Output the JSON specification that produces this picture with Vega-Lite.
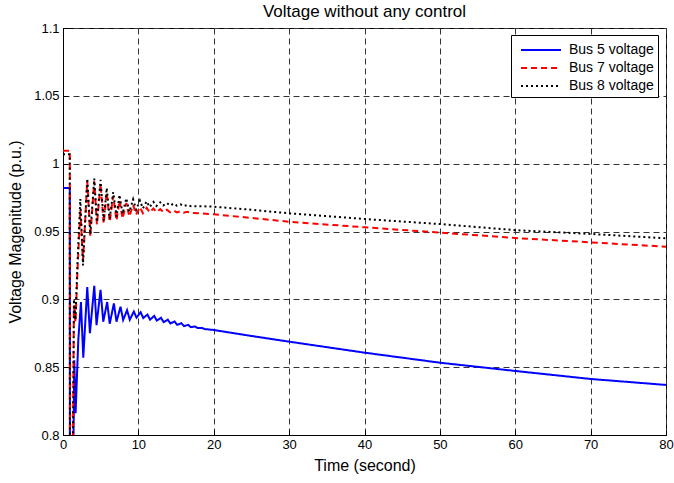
{
  "$schema": "https://vega.github.io/schema/vega-lite/v6.json",
  "width": 603,
  "height": 407,
  "autosize": {"type": "none"},
  "padding": {"left": 63, "top": 28, "right": 8, "bottom": 48},
  "background": "white",
  "title": {"text": "Voltage without any control", "font": "Liberation Sans", "fontSize": 17, "fontWeight": "normal", "offset": 1, "color": "black", "anchor": "middle"},
  "config": {
    "view": {"stroke": "black", "strokeWidth": 1},
    "axis": {
      "domainColor": "black", "domainWidth": 1,
      "grid": true, "gridColor": "#333333", "gridDash": [6, 4], "gridWidth": 1, "gridOpacity": 1,
      "ticks": true, "tickColor": "black", "tickSize": -5, "tickWidth": 1,
      "labelFont": "Liberation Sans", "labelFontSize": 13, "labelColor": "black", "labelFlush": false, "labelOverlap": false,
      "titleFont": "Liberation Sans", "titleFontSize": 16, "titleFontWeight": "normal", "titleColor": "black"
    }
  },
  "data": {"values": [
    {"s": "Bus 5 voltage", "t": 0, "v": 0.982},
    {"s": "Bus 5 voltage", "t": 0.9, "v": 0.982},
    {"s": "Bus 5 voltage", "t": 0.92, "v": 0.775},
    {"s": "Bus 5 voltage", "t": 1.35, "v": 0.775},
    {"s": "Bus 5 voltage", "t": 1.5, "v": 0.855},
    {"s": "Bus 5 voltage", "t": 1.67, "v": 0.816},
    {"s": "Bus 5 voltage", "t": 2.03, "v": 0.87},
    {"s": "Bus 5 voltage", "t": 2.38, "v": 0.898},
    {"s": "Bus 5 voltage", "t": 2.69, "v": 0.857},
    {"s": "Bus 5 voltage", "t": 3.22, "v": 0.909},
    {"s": "Bus 5 voltage", "t": 3.57, "v": 0.875},
    {"s": "Bus 5 voltage", "t": 4.15, "v": 0.91},
    {"s": "Bus 5 voltage", "t": 4.45, "v": 0.881},
    {"s": "Bus 5 voltage", "t": 4.98, "v": 0.907},
    {"s": "Bus 5 voltage", "t": 5.34, "v": 0.8835},
    {"s": "Bus 5 voltage", "t": 5.86, "v": 0.898},
    {"s": "Bus 5 voltage", "t": 6.2, "v": 0.882},
    {"s": "Bus 5 voltage", "t": 6.75, "v": 0.897},
    {"s": "Bus 5 voltage", "t": 7.1, "v": 0.8835},
    {"s": "Bus 5 voltage", "t": 7.63, "v": 0.8946},
    {"s": "Bus 5 voltage", "t": 7.98, "v": 0.8848},
    {"s": "Bus 5 voltage", "t": 8.5, "v": 0.892},
    {"s": "Bus 5 voltage", "t": 8.86, "v": 0.885},
    {"s": "Bus 5 voltage", "t": 9.4, "v": 0.891},
    {"s": "Bus 5 voltage", "t": 9.75, "v": 0.8865},
    {"s": "Bus 5 voltage", "t": 10.3, "v": 0.8905},
    {"s": "Bus 5 voltage", "t": 10.65, "v": 0.8862},
    {"s": "Bus 5 voltage", "t": 11.2, "v": 0.8888},
    {"s": "Bus 5 voltage", "t": 11.55, "v": 0.885},
    {"s": "Bus 5 voltage", "t": 12.1, "v": 0.8878},
    {"s": "Bus 5 voltage", "t": 12.45, "v": 0.8843},
    {"s": "Bus 5 voltage", "t": 13.0, "v": 0.8864},
    {"s": "Bus 5 voltage", "t": 13.35, "v": 0.8832},
    {"s": "Bus 5 voltage", "t": 13.9, "v": 0.885},
    {"s": "Bus 5 voltage", "t": 14.25, "v": 0.8822},
    {"s": "Bus 5 voltage", "t": 14.8, "v": 0.8837},
    {"s": "Bus 5 voltage", "t": 15.15, "v": 0.8812},
    {"s": "Bus 5 voltage", "t": 15.7, "v": 0.8824},
    {"s": "Bus 5 voltage", "t": 16.05, "v": 0.8803},
    {"s": "Bus 5 voltage", "t": 16.6, "v": 0.8812},
    {"s": "Bus 5 voltage", "t": 16.95, "v": 0.8795},
    {"s": "Bus 5 voltage", "t": 17.5, "v": 0.88},
    {"s": "Bus 5 voltage", "t": 17.85, "v": 0.8788},
    {"s": "Bus 5 voltage", "t": 18.4, "v": 0.879},
    {"s": "Bus 5 voltage", "t": 18.8, "v": 0.8781},
    {"s": "Bus 5 voltage", "t": 20, "v": 0.8774},
    {"s": "Bus 5 voltage", "t": 25, "v": 0.873},
    {"s": "Bus 5 voltage", "t": 30, "v": 0.8688},
    {"s": "Bus 5 voltage", "t": 40, "v": 0.8607},
    {"s": "Bus 5 voltage", "t": 50, "v": 0.8533},
    {"s": "Bus 5 voltage", "t": 60, "v": 0.8472},
    {"s": "Bus 5 voltage", "t": 70, "v": 0.8413},
    {"s": "Bus 5 voltage", "t": 80, "v": 0.8369},

    {"s": "Bus 7 voltage", "t": 0, "v": 1.0095},
    {"s": "Bus 7 voltage", "t": 0.9, "v": 1.0095},
    {"s": "Bus 7 voltage", "t": 0.92, "v": 0.775},
    {"s": "Bus 7 voltage", "t": 1.3, "v": 0.775},
    {"s": "Bus 7 voltage", "t": 1.45, "v": 0.895},
    {"s": "Bus 7 voltage", "t": 1.65, "v": 0.883},
    {"s": "Bus 7 voltage", "t": 1.95, "v": 0.925},
    {"s": "Bus 7 voltage", "t": 2.3, "v": 0.966},
    {"s": "Bus 7 voltage", "t": 2.65, "v": 0.928},
    {"s": "Bus 7 voltage", "t": 3.22, "v": 0.987},
    {"s": "Bus 7 voltage", "t": 3.62, "v": 0.946},
    {"s": "Bus 7 voltage", "t": 4.15, "v": 0.987},
    {"s": "Bus 7 voltage", "t": 4.5, "v": 0.955},
    {"s": "Bus 7 voltage", "t": 4.98, "v": 0.985},
    {"s": "Bus 7 voltage", "t": 5.4, "v": 0.956},
    {"s": "Bus 7 voltage", "t": 5.8, "v": 0.979},
    {"s": "Bus 7 voltage", "t": 6.2, "v": 0.957},
    {"s": "Bus 7 voltage", "t": 6.66, "v": 0.976},
    {"s": "Bus 7 voltage", "t": 7.1, "v": 0.958},
    {"s": "Bus 7 voltage", "t": 7.5, "v": 0.973},
    {"s": "Bus 7 voltage", "t": 7.9, "v": 0.9595},
    {"s": "Bus 7 voltage", "t": 8.4, "v": 0.971},
    {"s": "Bus 7 voltage", "t": 8.8, "v": 0.961},
    {"s": "Bus 7 voltage", "t": 9.3, "v": 0.9695},
    {"s": "Bus 7 voltage", "t": 9.7, "v": 0.9625},
    {"s": "Bus 7 voltage", "t": 10.2, "v": 0.968},
    {"s": "Bus 7 voltage", "t": 10.6, "v": 0.9635},
    {"s": "Bus 7 voltage", "t": 11.1, "v": 0.9675},
    {"s": "Bus 7 voltage", "t": 11.5, "v": 0.964},
    {"s": "Bus 7 voltage", "t": 12.0, "v": 0.967},
    {"s": "Bus 7 voltage", "t": 12.4, "v": 0.9642},
    {"s": "Bus 7 voltage", "t": 12.9, "v": 0.9665},
    {"s": "Bus 7 voltage", "t": 13.3, "v": 0.9643},
    {"s": "Bus 7 voltage", "t": 13.8, "v": 0.966},
    {"s": "Bus 7 voltage", "t": 14.2, "v": 0.9642},
    {"s": "Bus 7 voltage", "t": 14.7, "v": 0.9655},
    {"s": "Bus 7 voltage", "t": 15.1, "v": 0.964},
    {"s": "Bus 7 voltage", "t": 15.6, "v": 0.965},
    {"s": "Bus 7 voltage", "t": 16.0, "v": 0.9638},
    {"s": "Bus 7 voltage", "t": 16.5, "v": 0.9645},
    {"s": "Bus 7 voltage", "t": 17.0, "v": 0.9636},
    {"s": "Bus 7 voltage", "t": 18, "v": 0.9635},
    {"s": "Bus 7 voltage", "t": 20, "v": 0.9627},
    {"s": "Bus 7 voltage", "t": 25, "v": 0.96},
    {"s": "Bus 7 voltage", "t": 30, "v": 0.9572},
    {"s": "Bus 7 voltage", "t": 40, "v": 0.9531},
    {"s": "Bus 7 voltage", "t": 50, "v": 0.9492},
    {"s": "Bus 7 voltage", "t": 60, "v": 0.9452},
    {"s": "Bus 7 voltage", "t": 70, "v": 0.942},
    {"s": "Bus 7 voltage", "t": 80, "v": 0.9388},

    {"s": "Bus 8 voltage", "t": 0, "v": 1.007},
    {"s": "Bus 8 voltage", "t": 0.9, "v": 1.007},
    {"s": "Bus 8 voltage", "t": 0.92, "v": 0.775},
    {"s": "Bus 8 voltage", "t": 1.3, "v": 0.775},
    {"s": "Bus 8 voltage", "t": 1.45, "v": 0.9},
    {"s": "Bus 8 voltage", "t": 1.65, "v": 0.885},
    {"s": "Bus 8 voltage", "t": 1.95, "v": 0.93},
    {"s": "Bus 8 voltage", "t": 2.3, "v": 0.974},
    {"s": "Bus 8 voltage", "t": 2.65, "v": 0.925},
    {"s": "Bus 8 voltage", "t": 3.22, "v": 0.989},
    {"s": "Bus 8 voltage", "t": 3.62, "v": 0.948},
    {"s": "Bus 8 voltage", "t": 4.15, "v": 0.989},
    {"s": "Bus 8 voltage", "t": 4.5, "v": 0.957},
    {"s": "Bus 8 voltage", "t": 4.98, "v": 0.988},
    {"s": "Bus 8 voltage", "t": 5.4, "v": 0.958},
    {"s": "Bus 8 voltage", "t": 5.8, "v": 0.982},
    {"s": "Bus 8 voltage", "t": 6.2, "v": 0.9595},
    {"s": "Bus 8 voltage", "t": 6.66, "v": 0.979},
    {"s": "Bus 8 voltage", "t": 7.1, "v": 0.961},
    {"s": "Bus 8 voltage", "t": 7.5, "v": 0.977},
    {"s": "Bus 8 voltage", "t": 7.9, "v": 0.963},
    {"s": "Bus 8 voltage", "t": 8.4, "v": 0.9745},
    {"s": "Bus 8 voltage", "t": 8.8, "v": 0.9645},
    {"s": "Bus 8 voltage", "t": 9.3, "v": 0.9737},
    {"s": "Bus 8 voltage", "t": 9.7, "v": 0.966},
    {"s": "Bus 8 voltage", "t": 10.2, "v": 0.9728},
    {"s": "Bus 8 voltage", "t": 10.6, "v": 0.967},
    {"s": "Bus 8 voltage", "t": 11.1, "v": 0.9722},
    {"s": "Bus 8 voltage", "t": 11.5, "v": 0.968},
    {"s": "Bus 8 voltage", "t": 12.0, "v": 0.9718},
    {"s": "Bus 8 voltage", "t": 12.4, "v": 0.9688},
    {"s": "Bus 8 voltage", "t": 12.9, "v": 0.9715},
    {"s": "Bus 8 voltage", "t": 13.3, "v": 0.9692},
    {"s": "Bus 8 voltage", "t": 13.8, "v": 0.971},
    {"s": "Bus 8 voltage", "t": 14.2, "v": 0.9692},
    {"s": "Bus 8 voltage", "t": 14.7, "v": 0.9705},
    {"s": "Bus 8 voltage", "t": 15.1, "v": 0.969},
    {"s": "Bus 8 voltage", "t": 15.6, "v": 0.97},
    {"s": "Bus 8 voltage", "t": 16.0, "v": 0.9688},
    {"s": "Bus 8 voltage", "t": 16.5, "v": 0.9695},
    {"s": "Bus 8 voltage", "t": 17.0, "v": 0.9686},
    {"s": "Bus 8 voltage", "t": 18, "v": 0.9687},
    {"s": "Bus 8 voltage", "t": 20, "v": 0.9683},
    {"s": "Bus 8 voltage", "t": 25, "v": 0.966},
    {"s": "Bus 8 voltage", "t": 30, "v": 0.9634},
    {"s": "Bus 8 voltage", "t": 40, "v": 0.9592},
    {"s": "Bus 8 voltage", "t": 50, "v": 0.9555},
    {"s": "Bus 8 voltage", "t": 60, "v": 0.951},
    {"s": "Bus 8 voltage", "t": 70, "v": 0.9482},
    {"s": "Bus 8 voltage", "t": 80, "v": 0.945}
  ]},
  "mark": {"type": "line", "clip": true, "strokeWidth": 2},
  "encoding": {
    "x": {"field": "t", "type": "quantitative",
      "scale": {"domain": [0, 80], "nice": false, "zero": false},
      "axis": {"values": [0, 10, 20, 30, 40, 50, 60, 70, 80], "title": "Time (second)", "labelPadding": 8, "titlePadding": 6}},
    "y": {"field": "v", "type": "quantitative",
      "scale": {"domain": [0.8, 1.1], "nice": false, "zero": false},
      "axis": {"values": [0.8, 0.85, 0.9, 0.95, 1, 1.05, 1.1], "format": "~g", "title": "Voltage Magenitude (p.u.)", "labelPadding": 9, "titlePadding": 10}},
    "color": {"field": "s", "type": "nominal",
      "scale": {"domain": ["Bus 5 voltage", "Bus 7 voltage", "Bus 8 voltage"], "range": ["#0000ff", "#ff0000", "#000000"]},
      "legend": {"title": null, "orient": "none", "legendX": 448, "legendY": 7, "strokeColor": "black", "fillColor": "white", "padding": 4, "symbolOffset": 5, "labelFont": "Liberation Sans", "labelFontSize": 14, "labelColor": "black", "symbolType": "M-1,0H3", "symbolSize": 400, "symbolStrokeWidth": 2, "labelOffset": 27, "rowPadding": 0}},
    "strokeDash": {"field": "s", "type": "nominal",
      "scale": {"domain": ["Bus 5 voltage", "Bus 7 voltage", "Bus 8 voltage"], "range": [[1, 0], [6, 4], [2, 3]]},
      "legend": {"title": null, "orient": "none", "legendX": 448, "legendY": 7, "strokeColor": "black", "fillColor": "white", "padding": 4, "symbolOffset": 5, "labelFont": "Liberation Sans", "labelFontSize": 14, "labelColor": "black", "symbolType": "M-1,0H3", "symbolSize": 400, "symbolStrokeWidth": 2, "labelOffset": 27, "rowPadding": 0}}
  }
}
